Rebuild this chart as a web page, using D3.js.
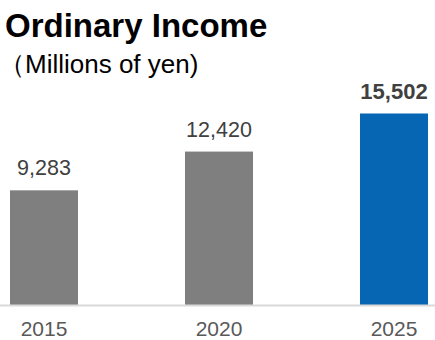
<!DOCTYPE html>
<html>
<head>
<meta charset="utf-8">
<script src="https://cdn.jsdelivr.net/npm/d3@7"></script>
<style>
  html, body { margin: 0; padding: 0; background: #fff; }
  svg { display: block; font-family: Arial, "Liberation Sans", sans-serif; }
</style>
</head>
<body>
<svg id="chart" width="435" height="340"></svg>
<script>
const years = ["2015", "2020", "2025"];
const values = [9283, 12420, 15502];
const highlight = [false, false, true];
const title = "Ordinary Income";
const subtitle = "（Millions of yen)";

const svg = d3.select("#chart");
const W = 435, baseY = 305;

const x = d3.scaleBand().domain(years).range([0, 438]).paddingInner(0.6114).paddingOuter(0.0571);
const y = d3.scaleLinear().domain([0, 15502]).range([baseY, 113.5]);

svg.append("text").attr("x", 5).attr("y", 37)
  .attr("font-size", 33).attr("font-weight", "bold").attr("fill", "#000")
  .text(title);
svg.append("text").attr("x", -1).attr("y", 73)
  .attr("font-size", 26).attr("fill", "#000")
  .text(subtitle);

svg.selectAll("rect.bar").data(years).join("rect")
  .attr("class", "bar")
  .attr("x", d => x(d))
  .attr("width", x.bandwidth())
  .attr("y", (d, i) => y(values[i]))
  .attr("height", (d, i) => baseY - y(values[i]))
  .attr("fill", (d, i) => highlight[i] ? "#0766B3" : "#7F7F7F");

svg.append("line").attr("x1", 0).attr("x2", W).attr("y1", baseY + 0.5).attr("y2", baseY + 0.5)
  .attr("stroke", "#D9D9D9").attr("stroke-width", 2);

svg.selectAll("text.val").data(years).join("text")
  .attr("class", "val")
  .attr("x", d => x(d) + x.bandwidth() / 2)
  .attr("y", (d, i) => y(values[i]) - 15)
  .attr("text-anchor", "middle")
  .attr("font-size", (d, i) => highlight[i] ? 22 : 21.5)
  .attr("font-weight", (d, i) => highlight[i] ? "bold" : "normal")
  .attr("fill", "#404040")
  .text((d, i) => d3.format(",")(values[i]));

const xAxis = d3.axisBottom(x).tickSize(0).tickPadding(0);
const ax = svg.append("g").attr("transform", `translate(0,${baseY})`).call(xAxis);
ax.select(".domain").remove();
ax.selectAll("text")
  .attr("font-size", 21).attr("fill", "#595959")
  .attr("font-family", "Arial, 'Liberation Sans', sans-serif")
  .attr("dy", null).attr("y", 30.5);
</script>
</body>
</html>
